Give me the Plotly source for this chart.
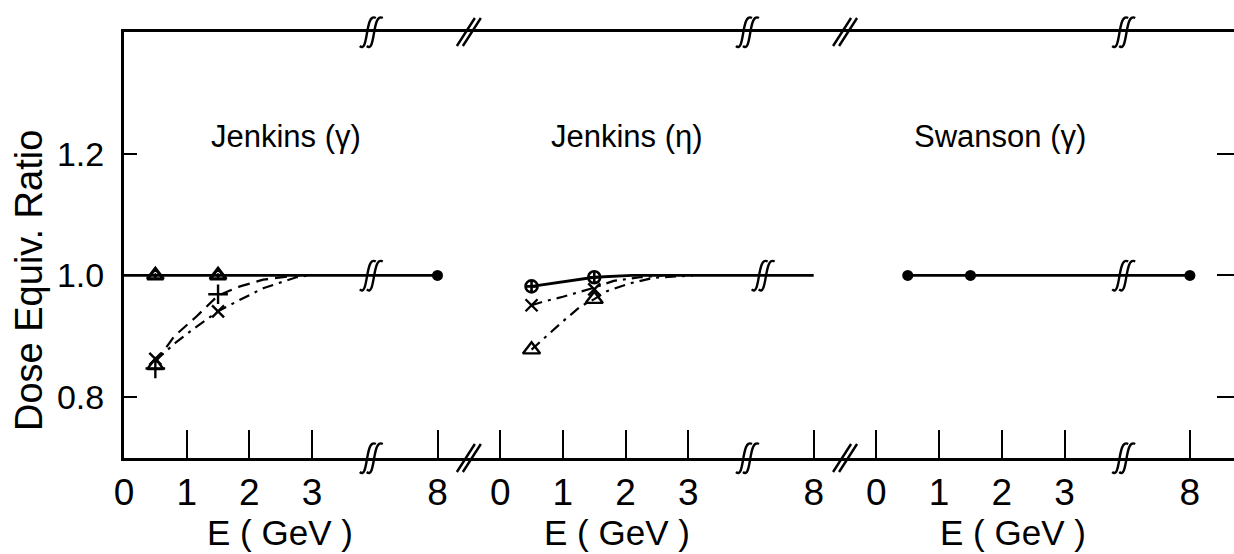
import plotly.graph_objects as go

# ---------------- data ----------------
PANEL_TITLES = ["Jenkins (γ)", "Jenkins (η)", "Swanson (γ)"]
X_TITLE = "E ( GeV )"
Y_TITLE = "Dose Equiv. Ratio"
E_TICKS = [0, 1, 2, 3, 8]
E_TICK_TEXT = ["0", "1", "2", "3", "8"]
Y_TICKS = [0.8, 1.0, 1.2]
Y_TICK_TEXT = ["0.8", "1.0", "1.2"]

# Panel 1 : Jenkins (gamma)
JG_REF_E = [0, 8]
JG_REF_Y = [1.0, 1.0]
JG_TRIDOT_E = [0.5, 1.5]
JG_TRIDOT_Y = [1.0, 1.0]
JG_END_E = [8]
JG_END_Y = [1.0]
JG_PLUS_E = [0.5, 1.5]
JG_PLUS_Y = [0.847, 0.969]
JG_PLUS_CURVE_E = [0.5, 0.8, 1.16, 1.5, 1.85, 2.22, 2.6, 2.8]
JG_PLUS_CURVE_Y = [0.857, 0.900, 0.933, 0.967, 0.982, 0.993, 0.998, 1.0]
JG_X_E = [0.5, 1.5]
JG_X_Y = [0.863, 0.941]
JG_X_CURVE_E = [0.5, 0.84, 1.16, 1.5, 1.85, 2.22, 2.75, 2.95]
JG_X_CURVE_Y = [0.860, 0.891, 0.916, 0.941, 0.960, 0.979, 0.997, 1.0]
JG_TRI_E = [0.5]
JG_TRI_Y = [0.852]

# Panel 2 : Jenkins (eta)
JE_CIRC_E = [0.5, 1.5]
JE_CIRC_Y = [0.982, 0.997]
JE_CIRC_LINE_E = [0.5, 1.5, 2.1, 3, 8]
JE_CIRC_LINE_Y = [0.982, 0.997, 1.0, 1.0, 1.0]
JE_X_E = [0.5, 1.5]
JE_X_Y = [0.951, 0.977]
JE_X_CURVE_E = [0.5, 0.69, 1.0, 1.44, 1.81, 2.23, 2.6]
JE_X_CURVE_Y = [0.951, 0.957, 0.965, 0.978, 0.991, 0.997, 1.0]
JE_TRI_E = [0.5, 1.5]
JE_TRI_Y = [0.878, 0.961]
JE_TRI_CURVE_E = [0.5, 0.96, 1.28, 1.5, 1.70, 2.07, 2.44, 3.07]
JE_TRI_CURVE_Y = [0.878, 0.921, 0.949, 0.961, 0.974, 0.987, 0.996, 1.0]

# Panel 3 : Swanson (gamma)
SG_E = [0.5, 1.5, 8]
SG_Y = [1.0, 1.0, 1.0]

# ---------------- broken-axis mapping ----------------
PANEL_SPAN = 6.0      # display units per panel
BREAK_AT = 4.0        # display position of the axis break inside a panel
HIGH_E_POS = 5.0      # display position of E = 8 GeV


def disp(e_list, panel):
    return [panel * PANEL_SPAN + (e if e <= BREAK_AT else HIGH_E_POS) for e in e_list]


FONT = "Liberation Sans, Arial, sans-serif"
NARROW = "Liberation Sans Narrow, Liberation Sans, Arial, sans-serif"
BLACK = "black"

fig = go.Figure()


def line(e, y, panel, dash="solid", width=2.2):
    fig.add_trace(go.Scatter(x=disp(e, panel), y=y, mode="lines",
                             line=dict(color=BLACK, width=width, dash=dash),
                             hoverinfo="skip", showlegend=False))


def marks(e, y, panel, symbol, size=11, lw=2.2):
    fig.add_trace(go.Scatter(x=disp(e, panel), y=y, mode="markers",
                             marker=dict(symbol=symbol, size=size, color=BLACK,
                                         line=dict(color=BLACK, width=lw)),
                             hoverinfo="skip", showlegend=False))


DASH = "12px,7px"
DASHDOT = "11px,6px,3px,6px"

# Panel 1
line(JG_REF_E, JG_REF_Y, 0, width=2.8)
line(JG_PLUS_CURVE_E, JG_PLUS_CURVE_Y, 0, dash=DASH)
line(JG_X_CURVE_E, JG_X_CURVE_Y, 0, dash=DASHDOT)
marks(JG_TRIDOT_E, JG_TRIDOT_Y, 0, "triangle-up-open-dot", size=14, lw=3.2)
marks(JG_END_E, JG_END_Y, 0, "circle", size=11, lw=0)
marks(JG_PLUS_E, JG_PLUS_Y, 0, "cross-thin-open", size=14, lw=2.4)
marks(JG_X_E, JG_X_Y, 0, "x-thin-open", size=12, lw=2.4)
marks(JG_TRI_E, JG_TRI_Y, 0, "triangle-up-open", size=14, lw=2.4)

# Panel 2
line(JE_CIRC_LINE_E, JE_CIRC_LINE_Y, 1, width=2.8)
line(JE_X_CURVE_E, JE_X_CURVE_Y, 1, dash=DASHDOT)
line(JE_TRI_CURVE_E, JE_TRI_CURVE_Y, 1, dash=DASHDOT)
marks(JE_CIRC_E, JE_CIRC_Y, 1, "circle-cross-open", size=12, lw=2.6)
marks(JE_X_E, JE_X_Y, 1, "x-thin-open", size=12, lw=2.4)
marks(JE_TRI_E, JE_TRI_Y, 1, "triangle-up-open", size=15, lw=2.4)

# Panel 3
line(SG_E, SG_Y, 2, width=2.8)
marks(SG_E, SG_Y, 2, "circle", size=11, lw=0)

# invisible trace for the right-hand tick axis
fig.add_trace(go.Scatter(x=[0], y=[1.0], yaxis="y2", mode="markers",
                         marker=dict(opacity=0), hoverinfo="skip", showlegend=False))

# ---------------- tick positions ----------------
tickvals, ticktext = [], []
for p in range(3):
    tickvals += disp(E_TICKS, p)
    ticktext += E_TICK_TEXT

# ---------------- break glyphs ----------------
S_BREAK = ("M-15,-14 C-6,-22 -10,20 1,14 "
           "M-8,-14 C1,-22 -3,20 8,14")
SLASH = "M-12,-14 L6,14 M-6,-14 L12,14"

shapes = []


def glyph(path, xa, ya, yref):
    shapes.append(dict(type="path", path=path, xref="x", yref=yref,
                       xsizemode="pixel", ysizemode="pixel",
                       xanchor=xa, yanchor=ya,
                       line=dict(color=BLACK, width=2.4)))


for p in range(3):
    xb = p * PANEL_SPAN + BREAK_AT
    glyph(S_BREAK, xb, 0, "paper")
    glyph(S_BREAK, xb, 1, "paper")
for p in range(2):
    xs = p * PANEL_SPAN + (HIGH_E_POS + PANEL_SPAN) / 2.0
    glyph(SLASH, xs, 0, "paper")
    glyph(SLASH, xs, 1, "paper")
# breaks on the data lines at ratio 1.0
for p, off in [(0, 0.0), (1, 0.25), (2, 0.0)]:
    glyph(S_BREAK, p * PANEL_SPAN + BREAK_AT + off, 1.0, "y")

# ---------------- annotations ----------------
W, H = 1234, 554
L, R, T, B = 124, 0, 32, 96
PW, PH = W - L - R, H - T - B


def px(xp):
    return (xp - L) / PW


def py(yp):
    return (H - B - yp) / PH


annotations = []
for title, cx in zip(PANEL_TITLES, [286, 627, 1000]):
    annotations.append(dict(text=title, x=px(cx), y=py(136), xref="paper", yref="paper",
                            showarrow=False, xanchor="center", yanchor="middle",
                            font=dict(family=FONT, size=31, color=BLACK)))
for cx in [280, 617, 1013]:
    annotations.append(dict(text=X_TITLE, x=px(cx), y=py(532), xref="paper", yref="paper",
                            showarrow=False, xanchor="center", yanchor="middle",
                            font=dict(family=NARROW, size=35, color=BLACK)))
annotations.append(dict(text=Y_TITLE, x=px(29), y=py(281), xref="paper", yref="paper",
                        showarrow=False, xanchor="center", yanchor="middle", textangle=-90,
                        font=dict(family=FONT, size=38, color=BLACK)))

fig.update_layout(
    width=W, height=H,
    margin=dict(l=L, r=R, t=T, b=B, pad=0),
    paper_bgcolor="white", plot_bgcolor="white",
    showlegend=False,
    xaxis=dict(range=[0, PW / 62.7], showgrid=False, zeroline=False,
               showline=True, mirror=True, linecolor=BLACK, linewidth=3,
               tickmode="array", tickvals=tickvals, ticktext=ticktext,
               ticks="inside", ticklen=28, tickwidth=2, tickcolor=BLACK,
               tickfont=dict(family=NARROW, size=37, color=BLACK),
               ticklabelstandoff=0),
    yaxis=dict(range=[0.7, 1.4], showgrid=False, zeroline=False,
               showline=True, linecolor=BLACK, linewidth=3,
               tickmode="array", tickvals=Y_TICKS, ticktext=Y_TICK_TEXT,
               ticks="inside", ticklen=13, tickwidth=2, tickcolor=BLACK,
               tickfont=dict(family=FONT, size=34, color=BLACK),
               ticklabelstandoff=10),
    yaxis2=dict(range=[0.7, 1.4], overlaying="y", side="right", anchor="x",
                showgrid=False, zeroline=False, showline=False,
                tickmode="array", tickvals=Y_TICKS, showticklabels=False,
                ticks="inside", ticklen=17, tickwidth=2, tickcolor=BLACK),
    shapes=shapes,
    annotations=annotations,
)

fig.write_html("out.html", config={"displayModeBar": False},
               post_script="document.body.style.margin='0';")
